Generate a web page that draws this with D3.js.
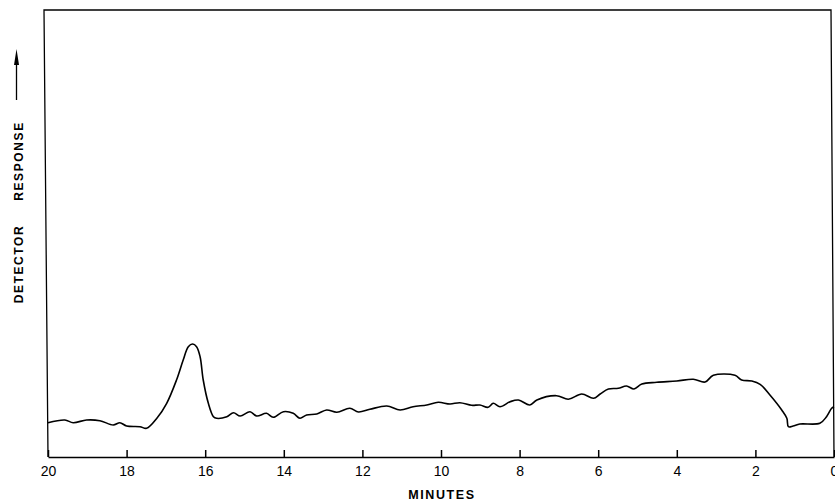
<!DOCTYPE html>
<html>
<head>
<meta charset="utf-8">
<script src="https://cdn.jsdelivr.net/npm/d3@7"></script>
<style>
  body { margin: 0; background: #fff; }
  svg { display: block; }
</style>
</head>
<body>
<div id="chart"></div>
<script>
const minutes = [20.0, 19.57, 19.36, 19.02, 18.68, 18.34, 18.17, 18.0, 17.66, 17.49,
  17.23, 16.98, 16.73, 16.56, 16.43, 16.32, 16.22, 16.13, 16.05, 15.92,
  15.79, 15.71, 15.45, 15.28, 15.11, 14.86, 14.69, 14.44, 14.27, 14.01,
  13.76, 13.59, 13.42, 13.16, 12.91, 12.65, 12.32, 12.10, 11.81, 11.38,
  11.04, 10.71, 10.36, 10.07, 9.77, 9.52, 9.22, 9.01, 8.80, 8.67,
  8.50, 8.24, 8.03, 7.74, 7.56, 7.06, 6.76, 6.42, 6.12, 5.95,
  5.74, 5.49, 5.28, 5.09, 4.89, 4.51, 4.00, 3.58, 3.28, 3.07,
  2.52, 2.35, 2.09, 1.88, 1.63, 1.33, 1.20, 1.16, 1.04, 0.87,
  0.36, 0.19, 0.06, 0.0];

// Detector response (arbitrary units)
const response = [34.3, 37, 34.3, 37, 36.3, 32, 34.3, 31, 30.3, 28.7,
  38.7, 53.7, 77, 97, 110.3, 113, 110.3, 100.3, 77, 53.7,
  40.3, 38.7, 40.3, 44.3, 41, 45.3, 41, 43.7, 39.7, 45.3,
  43.7, 38.7, 42, 43, 47, 44.7, 48.7, 45, 47.7, 51,
  47, 50.3, 52, 54.7, 53, 54.3, 51.7, 52, 49.7, 53.7,
  50.3, 55.3, 57, 52, 57, 61.3, 57.7, 63, 58.7, 63,
  68, 68.7, 71, 68, 73, 74.7, 76, 77.7, 75, 81.7,
  81.7, 77, 76, 72.7, 62, 47, 38.7, 30.3, 31, 33,
  33.7, 40.3, 48.7, 50.3];

const xTicks = [20, 18, 16, 14, 12, 10, 8, 6, 4, 2, 0];

const data = minutes.map((m, i) => ({ m: m, r: response[i] }));

const width = 835, height = 502;
const plotTop = 10, plotBottom = 457;

const svg = d3.select("#chart").append("svg")
    .attr("width", width)
    .attr("height", height);

const x = d3.scaleLinear().domain([20, 0]).range([48, 834]);
const y = d3.scaleLinear().domain([0, 447]).range([plotBottom, plotTop]);

// frame (the scanned original is slightly skewed)
svg.append("path")
    .attr("d", `M${x(20)},${plotBottom} L${x(20) - 4},${plotTop} L${x(0) - 3},${plotTop} L${x(0)},${plotBottom}`)
    .attr("fill", "none")
    .attr("stroke", "#000")
    .attr("stroke-width", 1.3);

// bottom axis, ticks pointing inward
const xAxis = svg.append("g")
    .attr("transform", `translate(0,${plotBottom})`)
    .call(d3.axisBottom(x)
        .tickValues(xTicks)
        .tickSizeInner(-7)
        .tickSizeOuter(0)
        .tickPadding(9)
        .tickFormat(d3.format("d")));

xAxis.select(".domain").attr("stroke-width", 1.5);
xAxis.selectAll(".tick line").attr("stroke-width", 1.5);
xAxis.selectAll("text")
    .attr("font-family", "Liberation Sans, Arial, sans-serif")
    .attr("font-size", 14)
    .attr("fill", "#000");

// trace
const line = d3.line()
    .x(d => x(d.m))
    .y(d => y(d.r))
    .curve(d3.curveCatmullRom.alpha(0.5));

svg.append("path")
    .datum(data)
    .attr("d", line)
    .attr("fill", "none")
    .attr("stroke", "#000")
    .attr("stroke-width", 1.6)
    .attr("stroke-linejoin", "round");

// x label
svg.append("text")
    .attr("x", 442)
    .attr("y", 499)
    .attr("text-anchor", "middle")
    .attr("font-family", "Liberation Sans, Arial, sans-serif")
    .attr("font-weight", "bold")
    .attr("font-size", 12.5)
    .attr("letter-spacing", "1.6px")
    .text("MINUTES");

// y label, rotated, with arrow pointing up
const yLab = svg.append("g")
    .attr("font-family", "Liberation Sans, Arial, sans-serif")
    .attr("font-weight", "bold")
    .attr("font-size", 12)
    .attr("letter-spacing", "1.6px")
    .attr("text-anchor", "middle");

yLab.append("text")
    .attr("transform", "translate(22.5,264) rotate(-90)")
    .text("DETECTOR");

yLab.append("text")
    .attr("transform", "translate(22.5,161) rotate(-90)")
    .text("RESPONSE");

svg.append("line")
    .attr("x1", 16.5).attr("x2", 16.5)
    .attr("y1", 100).attr("y2", 62)
    .attr("stroke", "#000")
    .attr("stroke-width", 1.3);

svg.append("path")
    .attr("d", "M16.5,49 L14,65 L19,65 Z")
    .attr("fill", "#000");
</script>
</body>
</html>
